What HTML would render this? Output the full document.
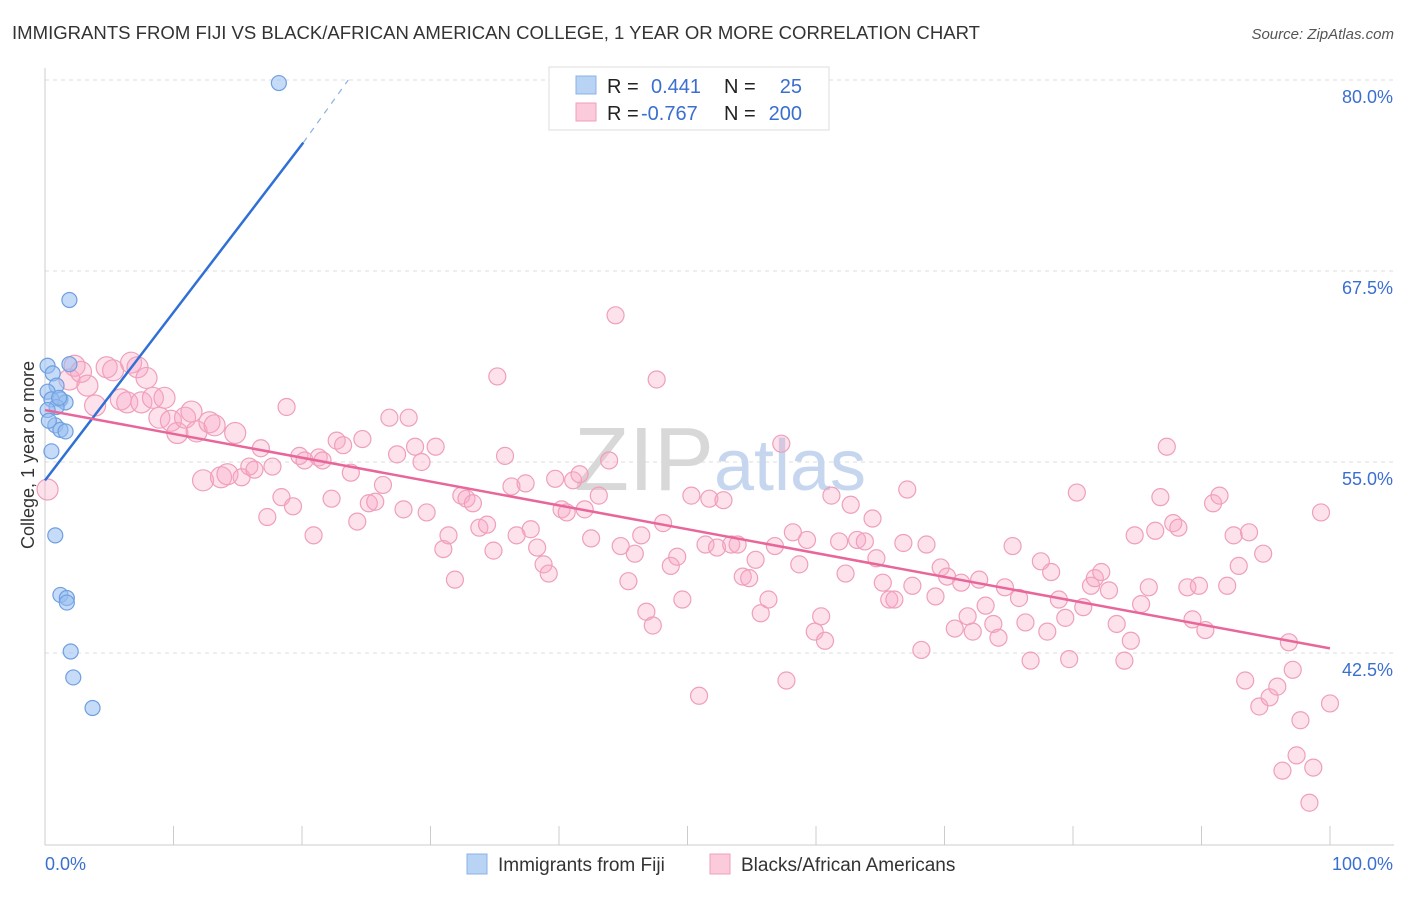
<!DOCTYPE html>
<html><head><meta charset="utf-8"><style>
body{margin:0;background:#fff;font-family:"Liberation Sans",sans-serif}
svg text{font-family:"Liberation Sans",sans-serif}
</style></head><body>
<svg width="1406" height="892" xmlns="http://www.w3.org/2000/svg">
<text x="12" y="39" font-size="18.6" fill="#333" textLength="968" lengthAdjust="spacingAndGlyphs">IMMIGRANTS FROM FIJI VS BLACK/AFRICAN AMERICAN COLLEGE, 1 YEAR OR MORE CORRELATION CHART</text>
<text x="1394" y="39" font-size="15" fill="#555" font-style="italic" text-anchor="end">Source: ZipAtlas.com</text>
<g id="grid"></g>
<g id="axes"></g>
<text x="720" y="490" font-size="90" fill="#d8d8d8" text-anchor="middle" font-family="Liberation Serif">ZIP<tspan fill="#c5d6ee" font-family="Liberation Sans" font-size="72">atlas</tspan></text>
<g id="pink"></g>
<g id="blue"></g>
<g id="lines"></g>
<g>
<rect x="549" y="67" width="280" height="63" fill="#fff" stroke="#ddd"/>
<rect x="576" y="76" width="20" height="18" fill="#b9d3f5" stroke="#8bb2e8"/>
<rect x="576" y="103" width="20" height="18" fill="#fbcadb" stroke="#ef9fbb"/>
<text x="607" y="93" font-size="20" fill="#222">R =</text><text x="651" y="93" font-size="20" fill="#3a6fd0">0.441</text>
<text x="724" y="93" font-size="20" fill="#222">N =</text><text x="802" y="93" font-size="20" fill="#3a6fd0" text-anchor="end">25</text>
<text x="607" y="120" font-size="20" fill="#222">R =</text><text x="641" y="120" font-size="20" fill="#3a6fd0">-0.767</text>
<text x="724" y="120" font-size="20" fill="#222">N =</text><text x="802" y="120" font-size="20" fill="#3a6fd0" text-anchor="end">200</text>
</g>
<g>
<rect x="467" y="854" width="20" height="20" fill="#b9d3f5" stroke="#8bb2e8"/>
<text x="498" y="871" font-size="19" fill="#333">Immigrants from Fiji</text>
<rect x="710" y="854" width="20" height="20" fill="#fbcadb" stroke="#ef9fbb"/>
<text x="741" y="871" font-size="19" fill="#333">Blacks/African Americans</text>
</g>
<text transform="translate(34,455) rotate(-90)" font-size="18" fill="#333" text-anchor="middle">College, 1 year or more</text>
</svg>
<script>
const yTicks=[80,67.5,55,42.5];
const yTickLabels=["80.0%","67.5%","55.0%","42.5%"];
const blueX=[18.2,1.9,0.2,1.9,0.6,0.9,0.2,1.2,0.5,1.6,0.9,0.8,1.2,1.6,0.5,0.8,1.2,1.7,1.7,2.0,2.2,3.7,0.2,1.1,0.3];
const blueY=[79.8,65.6,61.3,61.4,60.8,60.0,59.6,59.1,59.1,58.9,58.6,57.4,57.1,57.0,55.7,50.2,46.3,46.1,45.8,42.6,40.9,38.9,58.4,59.2,57.7];
const pinkX=[0.2,1.9,2.3,2.8,3.3,3.9,4.8,5.3,5.9,6.7,7.2,7.9,6.4,7.5,8.4,8.9,9.3,9.8,10.3,10.9,11.4,11.8,12.3,12.8,13.2,13.7,14.2,14.8,15.3,15.9,16.3,16.8,17.3,17.7,18.4,18.8,19.3,19.8,20.2,20.9,21.3,21.6,22.3,22.7,23.2,23.8,24.3,24.7,25.2,25.7,26.3,26.8,27.4,27.9,28.3,28.8,29.3,29.7,30.4,31.0,31.4,31.9,32.4,32.8,33.3,33.8,34.4,34.9,35.2,35.8,36.3,36.7,37.4,37.8,38.3,38.8,39.2,39.7,40.2,40.6,41.1,41.6,42.0,42.5,43.1,43.9,44.4,44.8,45.4,45.9,46.4,46.8,47.3,47.6,48.1,48.7,49.2,49.6,50.3,50.9,51.4,51.7,52.3,52.8,53.4,53.9,54.3,54.8,55.3,55.7,56.3,56.8,57.3,57.7,58.2,58.7,59.3,59.9,60.4,60.7,61.2,61.8,62.3,62.7,63.2,63.8,64.4,64.7,65.2,65.7,66.1,66.8,67.1,67.5,68.2,68.6,69.3,69.7,70.2,70.8,71.3,71.8,72.2,72.7,73.2,73.8,74.2,74.7,75.3,75.8,76.3,76.7,77.5,78.0,78.3,78.9,79.4,79.7,80.3,80.8,81.4,81.7,82.2,82.8,83.4,84.0,84.5,84.8,85.3,85.9,86.4,86.8,87.3,87.8,88.2,88.9,89.3,89.8,90.3,90.9,91.4,92.0,92.5,92.9,93.4,93.7,94.5,94.8,95.3,95.9,96.8,97.1,97.4,96.3,97.7,98.4,98.7,99.3,100.0];
const pinkY=[53.2,60.4,61.3,60.9,60.0,58.7,61.2,61.0,59.1,61.5,61.2,60.5,58.9,58.9,59.2,57.9,59.2,57.7,56.9,57.9,58.3,57.0,53.8,57.6,57.4,54.0,54.2,56.9,54.0,54.7,54.5,55.9,51.4,54.7,52.7,58.6,52.1,55.4,55.1,50.2,55.3,55.1,52.6,56.4,56.1,54.3,51.1,56.5,52.3,52.4,53.5,57.9,55.5,51.9,57.9,56.0,55.0,51.7,56.0,49.3,50.2,47.3,52.8,52.6,52.3,50.7,50.9,49.2,60.6,55.4,53.4,50.2,53.6,50.6,49.4,48.3,47.7,53.9,51.9,51.7,53.8,54.2,51.9,50.0,52.8,55.1,64.6,49.5,47.2,49.0,50.2,45.2,44.3,60.4,51.0,48.2,48.8,46.0,52.8,39.7,49.6,52.6,49.4,52.5,49.6,49.6,47.5,47.4,48.6,45.1,46.0,49.5,56.2,40.7,50.4,48.3,49.9,43.9,44.9,43.3,52.8,49.8,47.7,52.2,49.9,49.8,51.3,48.7,47.1,46.0,46.0,49.7,53.2,46.9,42.7,49.6,46.2,48.1,47.5,44.1,47.1,44.9,43.9,47.3,45.6,44.4,43.5,46.8,49.5,46.1,44.5,42.0,48.5,43.9,47.8,46.0,44.8,42.1,53.0,45.5,46.9,47.4,47.8,46.6,44.4,42.0,43.3,50.2,45.7,46.8,50.5,52.7,56.0,51.0,50.7,46.8,44.7,46.9,44.0,52.3,52.8,46.9,50.2,48.2,40.7,50.4,39.0,49.0,39.6,40.3,43.2,41.4,35.8,34.8,38.1,32.7,35.0,51.7,39.2];
const blueTrend=[[0,53.8],[20.1,75.9],[23.6,80.0]];
const pinkTrend=[[0,58.4],[100,42.8]];
const X=v=>45+v*12.85, Y=v=>80+(80-v)*15.28;
const NS="http://www.w3.org/2000/svg";
function mk(t,a,p){const e=document.createElementNS(NS,t);for(const k in a)e.setAttribute(k,a[k]);p.appendChild(e);return e;}
const grid=document.getElementById('grid');
yTicks.forEach((t,i)=>{
 const l=mk('line',{x1:45,x2:1394,y1:Y(t),y2:Y(t),stroke:'#ddd','stroke-dasharray':'4,4'},grid);
 
 
 const tx=mk('text',{x:1393,y:Y(t)+23,'font-size':18,fill:'#3a6fd0','text-anchor':'end'},grid);tx.textContent=yTickLabels[i];
 
 
});
const ax=document.getElementById('axes');
mk('line',{x1:45,x2:45,y1:68,y2:845,stroke:'#ccc'},ax);
mk('line',{x1:45,x2:1394,y1:845,y2:845,stroke:'#ccc'},ax);
for(let i=0;i<=10;i++){const t=mk('line',{x1:X(i*10),x2:X(i*10),y1:826,y2:845,stroke:'#ccc'},ax);
 
 }
let t0=mk('text',{x:45,y:870,'font-size':18,fill:'#3a6fd0'},ax);t0.textContent="0.0%";


let t1=mk('text',{x:1393,y:870,'font-size':18,fill:'#3a6fd0','text-anchor':'end'},ax);t1.textContent="100.0%";


const pg=document.getElementById('pink');
pinkX.forEach((x,i)=>{const c=mk('circle',{cx:X(x),cy:Y(pinkY[i]),r:x<15?10.5:8.5,fill:'rgba(248,170,198,0.35)',stroke:'#ef9fbb','stroke-width':1.2},pg);
 
 });
const bg=document.getElementById('blue');
blueX.forEach((x,i)=>{const c=mk('circle',{cx:X(x),cy:Y(blueY[i]),r:7.5,fill:'rgba(150,190,240,0.55)',stroke:'#6f9fe0','stroke-width':1.2},bg);
 
 });
const lg=document.getElementById('lines');
let b1=mk('line',{x1:X(blueTrend[0][0]),y1:Y(blueTrend[0][1]),x2:X(blueTrend[1][0]),y2:Y(blueTrend[1][1]),stroke:'#2f6fd6','stroke-width':2.5},lg);


let b2=mk('line',{x1:X(blueTrend[1][0]),y1:Y(blueTrend[1][1]),x2:X(blueTrend[2][0]),y2:Y(blueTrend[2][1]),stroke:'#8bb2e8','stroke-width':1.2,'stroke-dasharray':'6,6'},lg);


let p1=mk('line',{x1:X(pinkTrend[0][0]),y1:Y(pinkTrend[0][1]),x2:X(pinkTrend[1][0]),y2:Y(pinkTrend[1][1]),stroke:'#e8669a','stroke-width':2.5},lg);


</script>
</body></html>
